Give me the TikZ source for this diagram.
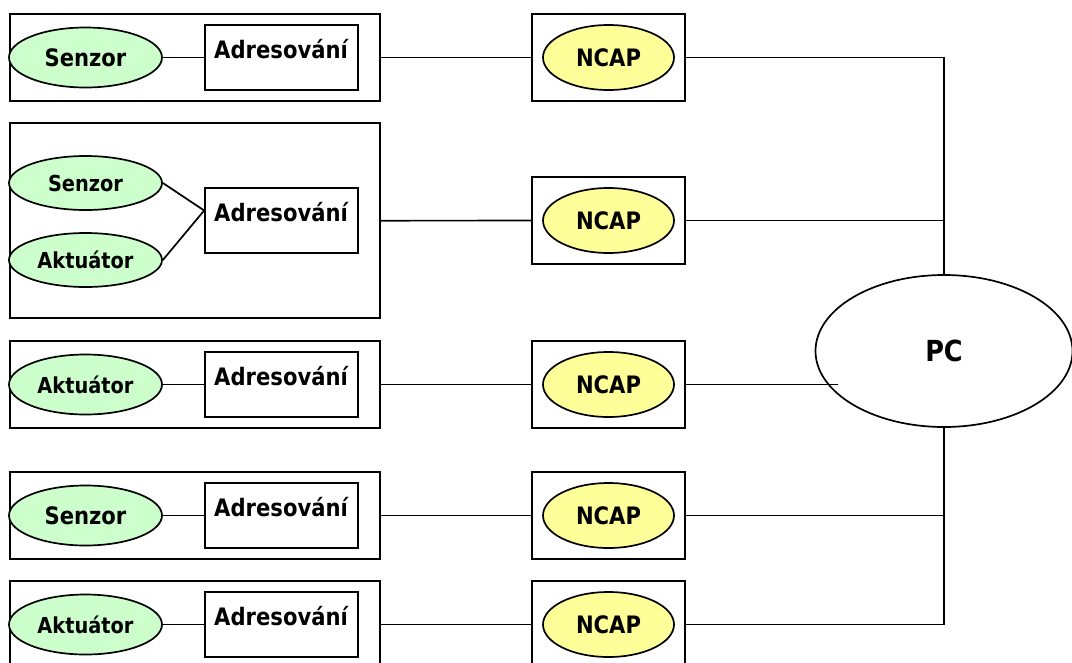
\documentclass[tikz,border=0pt]{standalone}
\usepackage{fontspec}
\usepackage{xcolor}
\usepackage{tikz}
\usetikzlibrary{shapes,arrows}
\setmainfont{DejaVu Sans}[FakeStretch=0.88]
\newcommand{\velky}{\fontsize{24}{28}\selectfont}
\newcommand{\maly}{\fontsize{22}{26}\selectfont}
\definecolor{lightgreen}{HTML}{CCFFCC}
\definecolor{lightyellow}{HTML}{FFFF99}
\tikzstyle{modul} = [rectangle, draw, minimum width=370pt, minimum height=87pt, inner sep=0pt]
\tikzstyle{adresa} = [rectangle, draw, fill=white, minimum width=153pt, minimum height=65pt, text height=16pt, text depth=14pt, inner sep=0pt, font=\velky, node distance=196pt]
\tikzstyle{prvek} = [ellipse, draw, fill=lightgreen, minimum width=153pt, minimum height=60pt, inner sep=0pt]
\tikzstyle{ncapbox} = [rectangle, draw, minimum width=153pt, minimum height=87pt, inner sep=0pt, node distance=327pt]
\tikzstyle{ncap} = [ellipse, draw, fill=lightyellow, minimum width=131pt, minimum height=65pt, inner sep=0pt, font=\velky]
\tikzstyle{pc} = [ellipse, draw, fill=white, minimum width=257pt, minimum height=152pt, inner sep=0pt, font=\fontsize{29}{34}\selectfont]
\tikzstyle{spoj} = [draw]

\begin{document}
\begin{tikzpicture}[x=1pt, y=-1pt, line width=1.7pt]
        \useasboundingbox (0,0) rectangle (1072,662);
        \clip (0,0) rectangle (1072,662);

        % Place nodes
        \node [modul] (m1) at (195,57.5) {};
        \node [modul, minimum height=195pt] (m2) at (195,220.8) {};
        \node [modul] (m3) at (195,384.5) {};
        \node [modul] (m4) at (195,515.5) {};
        \node [modul] (m5) at (195,624.5) {};

        \node [prvek, font=\velky] (sen1) at (85.5,57.5) {\textbf{Senzor}};
        \node [adresa, right of=sen1] (adr1) {\textbf{Adresování}};
        \node [ncapbox, right of=adr1] (nb1) {};
        \node [ncap] (ncap1) at (nb1) {\textbf{NCAP}};

        \node [prvek, font=\maly, minimum height=54pt] (sen2) at (85.5,183) {\textbf{Senzor}};
        \node [prvek, font=\maly, minimum height=54pt] (akt2) at (85.5,260) {\textbf{Aktuátor}};
        \node [adresa] (adr2) at (281.5,220.5) {\textbf{Adresování}};
        \node [ncapbox, right of=adr2] (nb2) {};
        \node [ncap] (ncap2) at (nb2) {\textbf{NCAP}};

        \node [prvek, font=\maly] (akt3) at (85.5,384.5) {\textbf{Aktuátor}};
        \node [adresa, right of=akt3] (adr3) {\textbf{Adresování}};
        \node [ncapbox, right of=adr3] (nb3) {};
        \node [ncap] (ncap3) at (nb3) {\textbf{NCAP}};

        \node [prvek, font=\velky] (sen4) at (85.5,515.5) {\textbf{Senzor}};
        \node [adresa, right of=sen4] (adr4) {\textbf{Adresování}};
        \node [ncapbox, right of=adr4] (nb4) {};
        \node [ncap] (ncap4) at (nb4) {\textbf{NCAP}};

        \node [prvek, font=\maly] (akt5) at (85.5,624.5) {\textbf{Aktuátor}};
        \node [adresa, right of=akt5] (adr5) {\textbf{Adresování}};
        \node [ncapbox, right of=adr5] (nb5) {};
        \node [ncap] (ncap5) at (nb5) {\textbf{NCAP}};

        \node [pc] (pc) at (944,351) {\textbf{PC}};
        \coordinate (pcvstup) at (838,384.5);

        % Draw edges
        \path [spoj] (sen1) -- (adr1);
        \path [spoj] (sen2.east) -- ([yshift=10pt]adr2.west);
        \path [spoj] (akt2.east) -- ([yshift=10pt]adr2.west);
        \path [spoj] (akt3) -- (adr3);
        \path [spoj] (sen4) -- (adr4);
        \path [spoj] (akt5) -- (adr5);

        \path [spoj] (m1) -- (nb1);
        \path [spoj] (m2) -- (nb2);
        \path [spoj] (m3) -- (nb3);
        \path [spoj] (m4) -- (nb4);
        \path [spoj] (m5) -- (nb5);

        \path [spoj] (nb1) -| (pc);
        \path [spoj] (nb2) -- (nb2 -| pc);
        \path [spoj] (nb3) -- (pcvstup);
        \path [spoj] (nb4) -- (nb4 -| pc);
        \path [spoj] (nb5) -| (pc);
    \end{tikzpicture}
\end{document}
